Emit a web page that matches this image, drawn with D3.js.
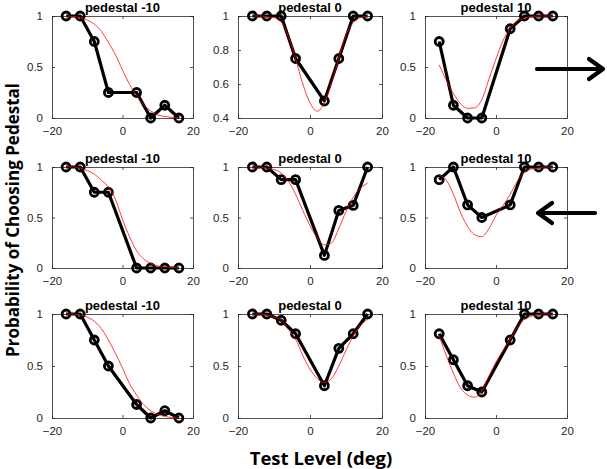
<!DOCTYPE html>
<html>
<head>
<meta charset="utf-8">
<script src="https://cdn.jsdelivr.net/npm/d3@7"></script>
<style>
body { margin: 0; background: #fff; }
svg { display: block; }
</style>
</head>
<body>
<svg id="chart" width="607" height="469"></svg>
<script>
// test levels of the data points and of the read-off fit curve
var testLevels = [-16, -12, -8, -4, 4, 8, 12, 16];
var fitLevels  = [-16, -14, -12, -10, -8, -6, -4, -2, 0, 2, 4, 6, 8, 10, 12, 14, 16];

var pedestals = [-10, 0, 10];

// observed proportions, row by row
var obsRow1 = [
	[1, 1, 0.75, 0.25, 0.25, 0, 0.125, 0],
	[1, 1, 1, 0.75, 0.5, 0.75, 1, 1],
	[0.75, 0.125, 0, 0, 0.875, 1, 1, 1]
];
var obsRow2 = [
	[1, 1, 0.75, 0.75, 0, 0, 0, 0],
	[1, 1, 0.875, 0.875, 0.125, 0.57, 0.62, 1],
	[0.875, 1, 0.625, 0.5, 0.625, 1, 1, 1]
];
var obsRow3 = [
	[1, 1, 0.75, 0.5, 0.13, 0, 0.07, 0],
	[1, 1, 0.94, 0.81, 0.31, 0.67, 0.81, 1],
	[0.81, 0.56, 0.31, 0.25, 0.75, 1, 1, 1]
];

// fitted curves (red)
var fitRow1 = [
	[1, 0.995, 0.985, 0.96, 0.92, 0.85, 0.74, 0.62, 0.47, 0.33, 0.22, 0.13, 0.07, 0.03, 0.015, 0.005, 0],
	[1, 1, 0.995, 0.99, 0.965, 0.88, 0.75, 0.6, 0.49, 0.44, 0.49, 0.61, 0.75, 0.89, 0.96, 0.99, 1],
	[0.52, 0.37, 0.24, 0.14, 0.095, 0.1, 0.18, 0.38, 0.58, 0.76, 0.88, 0.95, 0.98, 0.995, 1, 1, 1]
];
var fitRow2 = [
	[1, 1, 0.99, 0.965, 0.93, 0.87, 0.8, 0.68, 0.48, 0.31, 0.17, 0.09, 0.045, 0.02, 0.01, 0.005, 0],
	[1, 1, 0.99, 0.975, 0.94, 0.86, 0.73, 0.57, 0.42, 0.3, 0.23, 0.25, 0.39, 0.56, 0.7, 0.79, 0.84],
	[0.92, 0.87, 0.73, 0.55, 0.41, 0.33, 0.31, 0.39, 0.52, 0.62, 0.73, 0.86, 0.95, 0.98, 0.99, 1, 1]
];
var fitRow3 = [
	[1, 1, 0.99, 0.97, 0.93, 0.86, 0.75, 0.62, 0.48, 0.33, 0.22, 0.13, 0.07, 0.035, 0.015, 0.005, 0],
	[1, 1, 0.99, 0.97, 0.94, 0.85, 0.76, 0.6, 0.47, 0.38, 0.34, 0.38, 0.5, 0.65, 0.79, 0.89, 0.95],
	[0.79, 0.6, 0.43, 0.29, 0.22, 0.2, 0.26, 0.4, 0.54, 0.65, 0.76, 0.87, 0.95, 0.98, 0.995, 1, 1]
];

var xTicks = [-20, 0, 20];
var yTicksDefault = [0, 0.5, 1];
var yTicksZoomed = [0.4, 0.6, 0.8, 1];

var obsRows = [obsRow1, obsRow2, obsRow3];
var fitRows = [fitRow1, fitRow2, fitRow3];

var colX = [[52, 193], [238, 382], [425, 567]];
var rowY = [[16, 118], [167, 268], [314, 418]];

var svg = d3.select("#chart");
var axisColor = "#262626";
var tickFont = "'Liberation Sans', Arial, sans-serif";

function drawPanel(r, c) {
	var obs = obsRows[r][c];
	var fit = fitRows[r][c];
	var zoomed = (r == 0 && c == 1);

	var x = d3.scaleLinear().domain([-20, 20]).range(colX[c]);
	var y = d3.scaleLinear().domain(zoomed ? [0.4, 1] : [0, 1]).range([rowY[r][1], rowY[r][0]]);
	var yTicks = zoomed ? yTicksZoomed : yTicksDefault;

	var g = svg.append("g");

	// axes: ticks inside on all four sides, like a boxed plot
	var axes = [
		[d3.axisBottom(x).tickValues(xTicks).tickFormat(d3.format("d")), "translate(0," + rowY[r][1] + ")", true],
		[d3.axisTop(x).tickValues(xTicks).tickFormat(""), "translate(0," + rowY[r][0] + ")", false],
		[d3.axisLeft(y).tickValues(yTicks).tickFormat(function(d){ return d3.format("")(d); }), "translate(" + colX[c][0] + ",0)", true],
		[d3.axisRight(y).tickValues(yTicks).tickFormat(""), "translate(" + colX[c][1] + ",0)", false]
	];
	axes.forEach(function(a) {
		var ax = g.append("g").attr("transform", a[1])
			.call(a[0].tickSizeInner(-3).tickSizeOuter(0).tickPadding(a[2] ? 9 : 0));
		ax.select(".domain").attr("stroke", axisColor).attr("stroke-width", 0.8);
		ax.selectAll(".tick line").attr("stroke", axisColor).attr("stroke-width", 0.8);
		ax.selectAll(".tick text")
			.attr("fill", axisColor)
			.style("font-family", tickFont)
			.style("font-size", "11.5px");
	});
	g.selectAll(".tick text").filter(function(){ return this.textContent === "-20"; }).attr("dx", "-0.1em");

	// title
	g.append("text")
		.attr("x", (colX[c][0] + colX[c][1]) / 2)
		.attr("y", rowY[r][0] - 4)
		.attr("text-anchor", "middle")
		.style("font-family", tickFont)
		.style("font-weight", "bold")
		.style("font-size", "13px")
		.attr("fill", "#000")
		.text("pedestal " + pedestals[c]);

	// observed data
	var dataLine = d3.line()
		.x(function(d, i){ return x(testLevels[i]); })
		.y(function(d){ return y(d); });
	g.append("path")
		.datum(obs)
		.attr("d", dataLine)
		.attr("fill", "none")
		.attr("stroke", "#000")
		.attr("stroke-width", 3.2)
		.attr("stroke-linejoin", "round");
	g.selectAll("circle")
		.data(obs)
		.enter()
		.append("circle")
		.attr("cx", function(d, i){ return x(testLevels[i]); })
		.attr("cy", function(d){ return y(d); })
		.attr("r", 4)
		.attr("fill", "none")
		.attr("stroke", "#000")
		.attr("stroke-width", 2.8);

	// fitted curve
	var fitLine = d3.line()
		.curve(d3.curveMonotoneX)
		.x(function(d, i){ return x(fitLevels[i]); })
		.y(function(d){ return y(d); });
	g.append("path")
		.datum(fit)
		.attr("d", fitLine)
		.attr("fill", "none")
		.attr("stroke", "#ff0000")
		.attr("stroke-width", 0.9)
		.attr("stroke-opacity", 0.85);
}

for (var r = 0; r < 3; r++) {
	for (var c = 0; c < 3; c++) {
		drawPanel(r, c);
	}
}

// arrows
function drawArrow(x1, x2, yy) {
	var dir = x2 > x1 ? 1 : -1;
	var a = svg.append("g")
		.attr("fill", "none")
		.attr("stroke", "#000")
		.attr("stroke-width", 4.2)
		.attr("stroke-linecap", "round")
		.attr("stroke-linejoin", "round");
	a.append("line").attr("x1", x1).attr("y1", yy).attr("x2", x2 - dir * 2).attr("y2", yy);
	a.append("polyline")
		.attr("points", [[x2 - dir * 14, yy - 10], [x2, yy], [x2 - dir * 14, yy + 10]].map(function(p){ return p.join(","); }).join(" "));
}
drawArrow(537, 603, 69);
drawArrow(595, 538, 213);

// axis labels
var labelFont = "'Open Sans', 'DejaVu Sans', sans-serif";
svg.append("text")
	.attr("transform", "translate(19,220) rotate(-90)")
	.attr("text-anchor", "middle")
	.style("font-family", labelFont)
	.style("font-weight", "bold")
	.style("font-size", "17px")
	.text("Probability of Choosing Pedestal");

svg.append("text")
	.attr("x", 321)
	.attr("y", 465)
	.attr("text-anchor", "middle")
	.style("font-family", labelFont)
	.style("font-weight", "bold")
	.style("font-size", "18.5px")
	.text("Test Level (deg)");
</script>
</body>
</html>
